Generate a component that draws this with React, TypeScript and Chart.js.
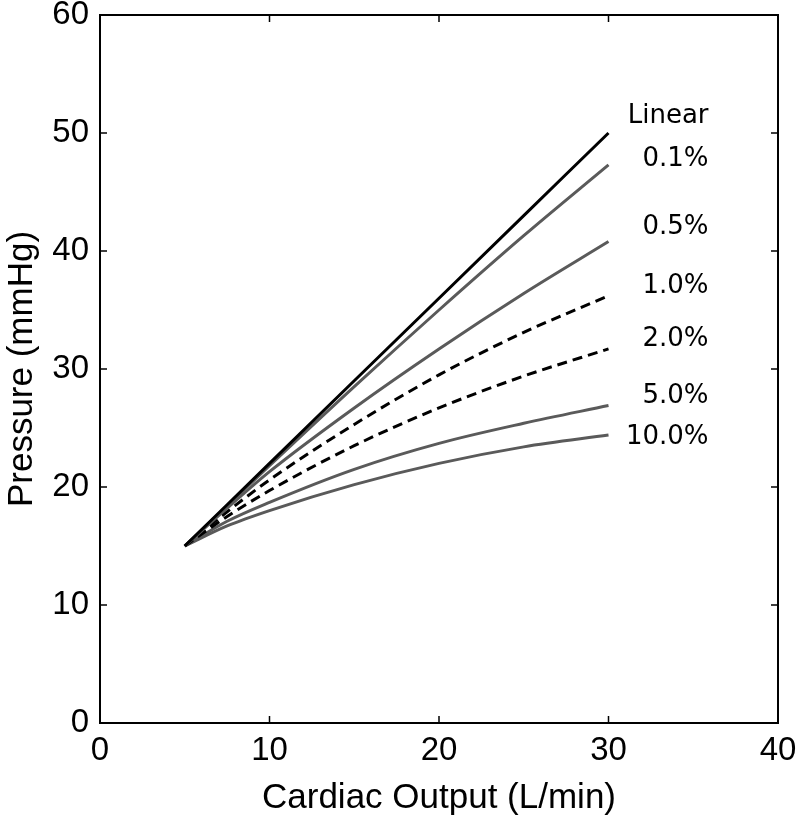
import React, { useEffect, useRef } from "react";
import { Chart, registerables } from "chart.js";

Chart.register(...registerables);

const flowValues = [5, 7.5, 10, 15, 20, 25, 30];

const linearSeries = [15, 18.5, 22, 29, 36, 43, 50];
const series01 = [15, 18.4, 21.8, 28.5, 35.0, 41.3, 47.3];
const series05 = [15, 18.2, 21.3, 26.7, 31.7, 36.4, 40.8];
const series10 = [15, 17.9, 20.6, 25.3, 29.5, 33.1, 36.2];
const series20 = [15, 17.5, 19.7, 23.5, 26.7, 29.4, 31.7];
const series50 = [15, 17.1, 18.7, 21.5, 23.7, 25.4, 26.9];
const series100 = [15, 16.7, 18.0, 20.2, 22.0, 23.4, 24.4];

const seriesNames = ["Linear", "0.1%", "0.5%", "1.0%", "2.0%", "5.0%", "10.0%"];
const seriesData = [linearSeries, series01, series05, series10, series20, series50, series100];

// annotation label anchor (data units): right edge x, vertical value
const labelX = 35.9;
const labelYValues = [51.4, 47.8, 42.0, 37.0, 32.5, 27.7, 24.2];

const xTicks = [0, 10, 20, 30, 40];
const yTicks = [0, 10, 20, 30, 40, 50, 60];

const GRAY = "#5a5a5a";
const lineColors = ["#000000", GRAY, GRAY, "#000000", "#000000", GRAY, GRAY];
const lineDashes: number[][] = [[], [], [], [10, 6], [10, 6], [], []];

const FONT = "'Liberation Sans', Arial, sans-serif";

const framePlugin = {
  id: "frame",
  afterDatasetsDraw(chart: any) {
    const { ctx, chartArea } = chart;
    const { left, right, top, bottom } = chartArea;
    const xs = chart.scales.x;
    const ys = chart.scales.y;
    ctx.save();
    ctx.strokeStyle = "#000";
    ctx.lineWidth = 2;
    ctx.strokeRect(left, top, right - left, bottom - top);
    const tl = 7;
    ctx.lineWidth = 1.5;
    ctx.beginPath();
    xTicks.forEach((v) => {
      const px = xs.getPixelForValue(v);
      ctx.moveTo(px, bottom);
      ctx.lineTo(px, bottom - tl);
      ctx.moveTo(px, top);
      ctx.lineTo(px, top + tl);
    });
    yTicks.forEach((v) => {
      const py = ys.getPixelForValue(v);
      ctx.moveTo(left, py);
      ctx.lineTo(left + tl, py);
      ctx.moveTo(right, py);
      ctx.lineTo(right - tl, py);
    });
    ctx.stroke();

    ctx.fillStyle = "#000";
    ctx.font = "26px 'DejaVu Sans'";
    ctx.textAlign = "right";
    ctx.textBaseline = "middle";
    const lx = xs.getPixelForValue(labelX);
    seriesNames.forEach((name, i) => {
      ctx.fillText(name, lx, ys.getPixelForValue(labelYValues[i]));
    });
    ctx.restore();
  },
};

export default function App() {
  const canvasRef = useRef<HTMLCanvasElement | null>(null);

  useEffect(() => {
    const canvas = canvasRef.current;
    if (!canvas) return;
    const chart = new Chart(canvas, {
      type: "line",
      data: {
        datasets: seriesData.map((vals, i) => ({
          label: seriesNames[i],
          data: vals.map((y, j) => ({ x: flowValues[j], y })),
          borderColor: lineColors[i],
          borderWidth: 3,
          borderDash: lineDashes[i],
          pointRadius: 0,
          fill: false,
          cubicInterpolationMode: "monotone" as const,
        })),
      },
      options: {
        responsive: false,
        animation: false,
        layout: { padding: { left: 0, right: 19, top: 15, bottom: 0 } },
        plugins: { legend: { display: false }, tooltip: { enabled: false } },
        scales: {
          x: {
            type: "linear",
            min: 0,
            max: 40,
            afterBuildTicks: (scale: any) => {
              scale.ticks = xTicks.map((v) => ({ value: v }));
            },
            afterFit: (scale: any) => {
              scale.height = 96;
              scale.paddingLeft = 0;
              scale.paddingRight = 0;
            },
            grid: { display: false },
            border: { display: false },
            ticks: {
              color: "#000",
              padding: 0,
              maxRotation: 0,
              font: { family: FONT, size: 33 },
            },
            title: {
              display: true,
              text: "Cardiac Output (L/min)",
              color: "#000",
              padding: { top: 0, bottom: 0 },
              font: { family: FONT, size: 35 },
            },
          },
          y: {
            type: "linear",
            min: 0,
            max: 60,
            afterBuildTicks: (scale: any) => {
              scale.ticks = yTicks.map((v) => ({ value: v }));
            },
            afterFit: (scale: any) => {
              scale.width = 100;
              scale.paddingTop = 0;
              scale.paddingBottom = 0;
            },
            grid: { display: false },
            border: { display: false },
            ticks: {
              color: "#000",
              padding: 3,
              font: { family: FONT, size: 33 },
            },
            title: {
              display: true,
              text: "Pressure (mmHg)",
              color: "#000",
              padding: { top: 1, bottom: 0 },
              font: { family: FONT, size: 35 },
            },
          },
        },
      },
      plugins: [framePlugin],
    });
    return () => chart.destroy();
  }, []);

  return (
    <div style={{ position: "absolute", left: 0, top: 0, width: 797, height: 819, background: "#fff" }}>
      <canvas ref={canvasRef} width={797} height={819} />
    </div>
  );
}
